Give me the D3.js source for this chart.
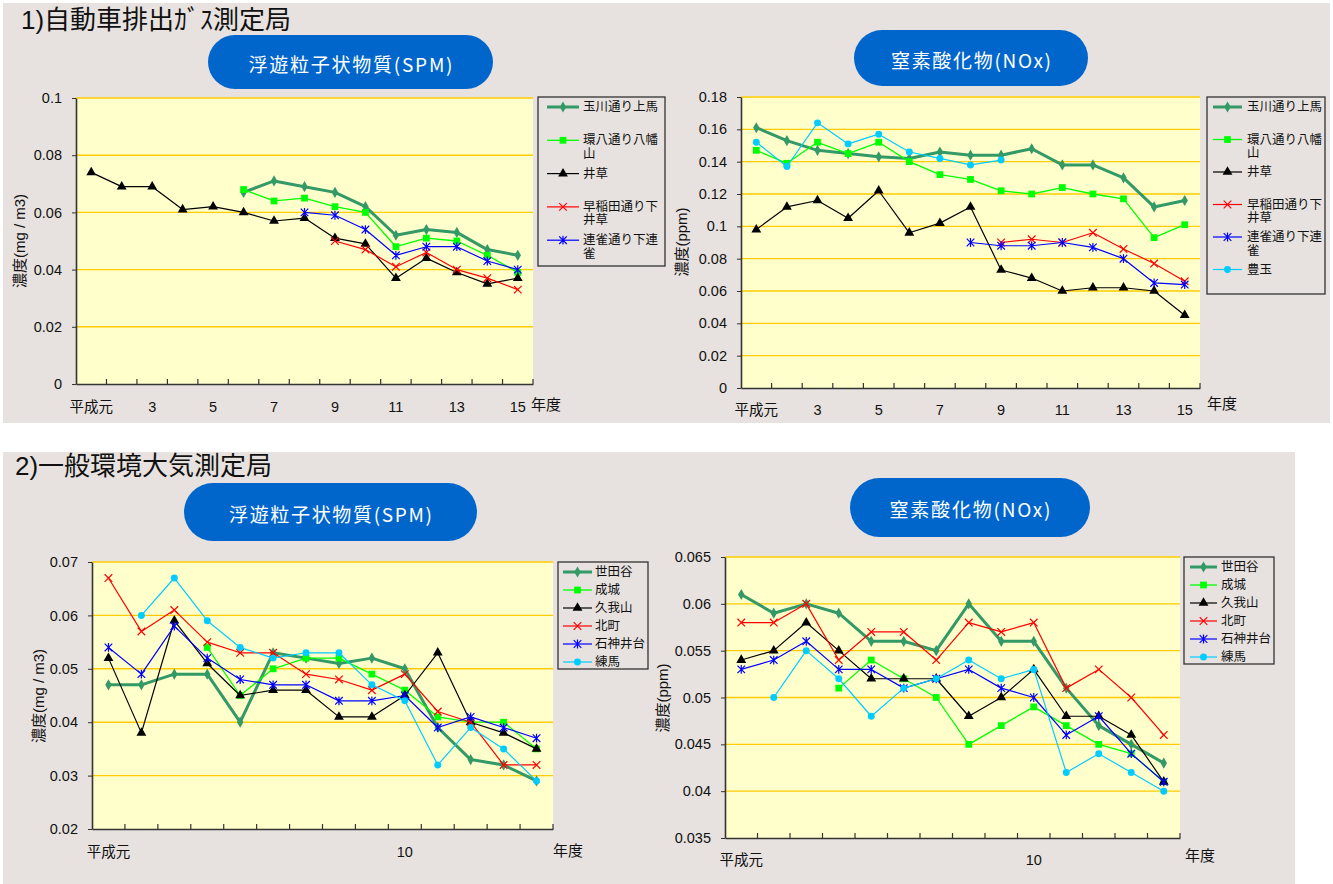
<!DOCTYPE html>
<html>
<head>
<meta charset="utf-8">
<script src="https://cdn.jsdelivr.net/npm/d3@7"></script>
<style>
  body { margin: 0; background: #fff; }
  text { font-family: "Liberation Sans", "Noto Sans CJK JP", sans-serif; fill: #111; }
</style>
</head>
<body>
<div id="root"></div>
<script>
// ---- data ----
const yearsRoad = ['平成元', '2', '3', '4', '5', '6', '7', '8', '9', '10', '11', '12', '13', '14', '15'];
const yearsAmb = ['平成元', '2', '3', '4', '5', '6', '7', '8', '9', '10', '11', '12', '13', '14'];
const xLabelsRoad = ['平成元', '3', '5', '7', '9', '11', '13', '15'];
const xLabelsAmb = ['平成元', '10'];

const namesRoad = ['玉川通り上馬', '環八通り八幡山', '井草', '早稲田通り下井草', '連雀通り下連雀', '豊玉'];
const namesAmb = ['世田谷', '成城', '久我山', '北町', '石神井台', '練馬'];

const yTicksSpmRoad = [0, 0.02, 0.04, 0.06, 0.08, 0.1];
const yTicksNoxRoad = [0, 0.02, 0.04, 0.06, 0.08, 0.1, 0.12, 0.14, 0.16, 0.18];
const yTicksSpmAmb = [0.02, 0.03, 0.04, 0.05, 0.06, 0.07];
const yTicksNoxAmb = [0.035, 0.04, 0.045, 0.05, 0.055, 0.06, 0.065];

// 自動車排出ガス測定局 SPM
const spmRoadTamagawa = [null, null, null, null, null, 0.067, 0.071, 0.069, 0.067, 0.062, 0.052, 0.054, 0.053, 0.047, 0.045];
const spmRoadKanpachi = [null, null, null, null, null, 0.068, 0.064, 0.065, 0.062, 0.060, 0.048, 0.051, 0.050, 0.045, 0.039];
const spmRoadIgusa = [0.074, 0.069, 0.069, 0.061, 0.062, 0.060, 0.057, 0.058, 0.051, 0.049, 0.037, 0.044, 0.039, 0.035, 0.037];
const spmRoadWaseda = [null, null, null, null, null, null, null, null, 0.050, 0.047, 0.041, 0.046, 0.040, 0.037, 0.033];
const spmRoadRenjaku = [null, null, null, null, null, null, null, 0.060, 0.059, 0.054, 0.045, 0.048, 0.048, 0.043, 0.040];

// 自動車排出ガス測定局 NOx
const noxRoadTamagawa = [0.161, 0.153, 0.147, 0.145, 0.143, 0.142, 0.146, 0.144, 0.144, 0.148, 0.138, 0.138, 0.130, 0.112, 0.116];
const noxRoadKanpachi = [0.147, 0.139, 0.152, 0.145, 0.152, 0.140, 0.132, 0.129, 0.122, 0.120, 0.124, 0.120, 0.117, 0.093, 0.101];
const noxRoadIgusa = [0.098, 0.112, 0.116, 0.105, 0.122, 0.096, 0.102, 0.112, 0.073, 0.068, 0.060, 0.062, 0.062, 0.060, 0.045];
const noxRoadWaseda = [null, null, null, null, null, null, null, null, 0.090, 0.092, 0.090, 0.096, 0.086, 0.077, 0.066];
const noxRoadRenjaku = [null, null, null, null, null, null, null, 0.090, 0.088, 0.088, 0.090, 0.087, 0.080, 0.065, 0.064];
const noxRoadToyotama = [0.152, 0.137, 0.164, 0.151, 0.157, 0.146, 0.142, 0.138, 0.141, null, null, null, null, null, null];

// 一般環境大気測定局 SPM
const spmAmbSetagaya = [0.047, 0.047, 0.049, 0.049, 0.040, 0.053, 0.052, 0.051, 0.052, 0.050, 0.039, 0.033, 0.032, 0.029];
const spmAmbSeijo = [null, null, null, 0.054, 0.045, 0.050, 0.052, 0.052, 0.049, 0.046, 0.041, 0.040, 0.040, 0.035];
const spmAmbKugayama = [0.052, 0.038, 0.059, 0.051, 0.045, 0.046, 0.046, 0.041, 0.041, 0.045, 0.053, 0.040, 0.038, 0.035];
const spmAmbKitamachi = [0.067, 0.057, 0.061, 0.055, 0.053, 0.053, 0.049, 0.048, 0.046, 0.049, 0.042, 0.040, 0.032, 0.032];
const spmAmbShakujii = [0.054, 0.049, 0.058, 0.052, 0.048, 0.047, 0.047, 0.044, 0.044, 0.045, 0.039, 0.041, 0.039, 0.037];
const spmAmbNerima = [null, 0.060, 0.067, 0.059, 0.054, 0.052, 0.053, 0.053, 0.047, 0.044, 0.032, 0.039, 0.035, 0.029];

// 一般環境大気測定局 NOx
const noxAmbSetagaya = [0.061, 0.059, 0.060, 0.059, 0.056, 0.056, 0.055, 0.060, 0.056, 0.056, 0.051, 0.047, 0.045, 0.043];
const noxAmbSeijo = [null, null, null, 0.051, 0.054, 0.052, 0.050, 0.045, 0.047, 0.049, 0.047, 0.045, 0.044, 0.041];
const noxAmbKugayama = [0.054, 0.055, 0.058, 0.055, 0.052, 0.052, 0.052, 0.048, 0.050, 0.053, 0.048, 0.048, 0.046, 0.041];
const noxAmbKitamachi = [0.058, 0.058, 0.060, 0.054, 0.057, 0.057, 0.054, 0.058, 0.057, 0.058, 0.051, 0.053, 0.050, 0.046];
const noxAmbShakujii = [0.053, 0.054, 0.056, 0.053, 0.053, 0.051, 0.052, 0.053, 0.051, 0.050, 0.046, 0.048, 0.044, 0.041];
const noxAmbNerima = [null, 0.050, 0.055, 0.052, 0.048, 0.051, 0.052, 0.054, 0.052, 0.053, 0.042, 0.044, 0.042, 0.040];

// ---- styles ----
const panelBg = '#e7e2df';
const plotBg = '#ffffcc';
const gridColor = '#ffcc00';
const pillColor = '#0066cc';

const styles = [
  { color: '#339966', width: 3, marker: 'diamond' },
  { color: '#00ff00', width: 1.3, marker: 'square' },
  { color: '#000000', width: 1.2, marker: 'triangle' },
  { color: '#ff0000', width: 1.2, marker: 'x' },
  { color: '#0000ff', width: 1.2, marker: 'star' },
  { color: '#00ccff', width: 1.2, marker: 'circle' }
];

const svg = d3.select('#root').append('svg')
  .attr('width', 1333)
  .attr('height', 884);

svg.append('rect').attr('width', 1333).attr('height', 884).attr('fill', '#fff');
svg.append('rect').attr('x', 3).attr('y', 3).attr('width', 1327).attr('height', 420).attr('fill', panelBg);
svg.append('rect').attr('x', 3).attr('y', 452).attr('width', 1292).attr('height', 432).attr('fill', panelBg);

svg.append('text').attr('x', 21).attr('y', 29).attr('font-size', 26).text('1)自動車排出ｶﾞｽ測定局');
svg.append('text').attr('x', 15).attr('y', 475).attr('font-size', 26).text('2)一般環境大気測定局');

function drawMarker(sel, type, color) {
  if (type === 'x' || type === 'star') {
    const r = 3.8;
    let d = `M${-r},${-r}L${r},${r}M${-r},${r}L${r},${-r}`;
    if (type === 'star') d += `M0,${-r - 0.6}L0,${r + 0.6}`;
    sel.append('path').attr('d', d).attr('stroke', color).attr('stroke-width', 1.2).attr('fill', 'none');
    return;
  }
  const sym = { diamond: d3.symbolDiamond, square: d3.symbolSquare, triangle: d3.symbolTriangle, circle: d3.symbolCircle }[type];
  const size = { diamond: 36, square: 46, triangle: 42, circle: 38 }[type];
  sel.append('path').attr('d', d3.symbol().type(sym).size(size)()).attr('fill', color);
}

function drawPanel(p) {
  const g = svg.append('g');
  const x = d3.scaleBand().domain(p.categories).range([p.plot.x, p.plot.x + p.plot.w]);
  const y = d3.scaleLinear().domain(d3.extent(p.yTicks)).range([p.plot.y + p.plot.h, p.plot.y]);
  const cx = (c) => x(c) + x.bandwidth() / 2;

  // pill title
  g.append('rect')
    .attr('x', p.pill.x).attr('y', p.pill.y)
    .attr('width', p.pill.w).attr('height', p.pill.h)
    .attr('rx', p.pill.h / 2)
    .attr('fill', pillColor);
  g.append('text')
    .attr('x', p.pill.x + p.pill.w / 2)
    .attr('y', p.pill.y + p.pill.h / 2 + 1)
    .attr('text-anchor', 'middle')
    .attr('dominant-baseline', 'central')
    .attr('font-size', 19)
    .attr('textLength', p.pill.tw)
    .attr('lengthAdjust', 'spacing')
    .style('fill', '#fff')
    .style('font-family', '"Noto Sans CJK JP", sans-serif')
    .text(p.title);

  // plot area
  g.append('rect')
    .attr('x', p.plot.x).attr('y', p.plot.y)
    .attr('width', p.plot.w).attr('height', p.plot.h)
    .attr('fill', plotBg);

  g.append('g').selectAll('line').data(p.yTicks.slice(1))
    .enter().append('line')
      .attr('x1', p.plot.x).attr('x2', p.plot.x + p.plot.w)
      .attr('y1', (d) => y(d)).attr('y2', (d) => y(d))
      .attr('stroke', gridColor)
      .attr('stroke-width', 1.4);

  // y axis
  const yAxis = d3.axisLeft(y)
    .tickValues(p.yTicks)
    .tickSize(4)
    .tickSizeOuter(0)
    .tickPadding(10)
    .tickFormat((d) => String(d));
  const ya = g.append('g')
    .attr('transform', `translate(${p.plot.x}, 0)`)
    .call(yAxis);
  ya.selectAll('text').attr('font-size', 14.5).style('font-family', '"Liberation Sans", sans-serif').attr('fill', '#111');
  ya.selectAll('line').attr('stroke', '#333');
  ya.select('.domain').attr('stroke', '#333').attr('stroke-width', 1.6);

  // x axis
  const xAxis = d3.axisBottom(x)
    .tickValues(p.xLabels)
    .tickSize(0)
    .tickPadding(p.xPad);
  const xa = g.append('g')
    .attr('transform', `translate(0, ${p.plot.y + p.plot.h})`)
    .call(xAxis);
  xa.selectAll('text').attr('font-size', 14.5).style('font-family', '"Liberation Sans", "Noto Sans CJK JP", sans-serif').attr('fill', '#111');
  xa.select('.domain').attr('stroke', '#333').attr('stroke-width', 1.6);

  // tick marks between categories
  g.append('g').selectAll('line').data(p.categories)
    .enter().append('line')
      .attr('x1', (d) => x(d) + x.bandwidth()).attr('x2', (d) => x(d) + x.bandwidth())
      .attr('y1', p.plot.y + p.plot.h).attr('y2', p.plot.y + p.plot.h - 5)
      .attr('stroke', '#333')
      .attr('stroke-width', 1.2);

  g.append('text')
    .attr('x', p.unit.x).attr('y', p.unit.y)
    .attr('font-size', 15)
    .attr('dominant-baseline', 'central')
    .text('年度');

  g.append('text')
    .attr('transform', `translate(${p.ytitle.x}, ${p.ytitle.y}) rotate(-90)`)
    .attr('text-anchor', 'middle')
    .attr('dominant-baseline', 'central')
    .attr('font-size', 15)
    .text(p.ytitle.text);

  // series
  const line = d3.line()
    .defined((d) => d.v != null)
    .x((d) => cx(d.c))
    .y((d) => y(d.v));

  p.series.forEach((s) => {
    const st = styles[s.style];
    const pts = p.categories.map((c, k) => ({ c: c, v: s.values[k] }));
    g.append('path')
      .datum(pts)
      .attr('d', line)
      .attr('fill', 'none')
      .attr('stroke', st.color)
      .attr('stroke-width', st.width)
      .attr('stroke-linejoin', 'round');
    g.append('g').selectAll('g').data(pts.filter((d) => d.v != null))
      .enter().append('g')
        .attr('transform', (d) => `translate(${cx(d.c)}, ${y(d.v)})`)
        .each(function () { drawMarker(d3.select(this), st.marker, st.color); });
  });

  // legend
  const L = p.legend;
  g.append('rect')
    .attr('x', L.x).attr('y', L.y)
    .attr('width', L.w).attr('height', L.h)
    .attr('fill', panelBg)
    .attr('stroke', '#333')
    .attr('stroke-width', 1.3);
  p.series.forEach((s, i) => {
    const st = styles[s.style];
    const ly = L.y0 + i * L.step;
    const item = g.append('g');
    item.append('line')
      .attr('x1', L.x + L.l0).attr('x2', L.x + L.l1)
      .attr('y1', ly).attr('y2', ly)
      .attr('stroke', st.color)
      .attr('stroke-width', st.width);
    drawMarker(item.append('g').attr('transform', `translate(${L.x + (L.l0 + L.l1) / 2}, ${ly})`), st.marker, st.color);
    const lines = [];
    for (let k = 0; k < s.name.length; k += L.wrap) lines.push(s.name.slice(k, k + L.wrap));
    lines.forEach((t, k) => {
      item.append('text')
        .attr('x', L.x + L.tx)
        .attr('y', ly + k * 13.5)
        .attr('dominant-baseline', 'central')
        .attr('font-size', L.fs)
        .text(t);
    });
  });
}

drawPanel({
  title: '浮遊粒子状物質(SPM)',
  pill: { x: 208, y: 35, w: 285, h: 54, tw: 204 },
  plot: { x: 76, y: 98, w: 457, h: 286 },
  categories: yearsRoad,
  xLabels: xLabelsRoad,
  xPad: 18,
  yTicks: yTicksSpmRoad,
  unit: { x: 531, y: 404 },
  ytitle: { x: 19, y: 241, text: '濃度(mg / m3)' },
  series: [
    { name: namesRoad[0], values: spmRoadTamagawa, style: 0 },
    { name: namesRoad[1], values: spmRoadKanpachi, style: 1 },
    { name: namesRoad[2], values: spmRoadIgusa, style: 2 },
    { name: namesRoad[3], values: spmRoadWaseda, style: 3 },
    { name: namesRoad[4], values: spmRoadRenjaku, style: 4 }
  ],
  legend: { x: 538, y: 97, w: 127, h: 169, y0: 107, step: 33.3, l0: 9, l1: 41, tx: 45, fs: 12.5, wrap: 6 }
});

drawPanel({
  title: '窒素酸化物(NOx)',
  pill: { x: 854, y: 30, w: 234, h: 56, tw: 160 },
  plot: { x: 741, y: 97, w: 459, h: 291 },
  categories: yearsRoad,
  xLabels: xLabelsRoad,
  xPad: 17,
  yTicks: yTicksNoxRoad,
  unit: { x: 1207, y: 403 },
  ytitle: { x: 681, y: 242, text: '濃度(ppm)' },
  series: [
    { name: namesRoad[0], values: noxRoadTamagawa, style: 0 },
    { name: namesRoad[1], values: noxRoadKanpachi, style: 1 },
    { name: namesRoad[2], values: noxRoadIgusa, style: 2 },
    { name: namesRoad[3], values: noxRoadWaseda, style: 3 },
    { name: namesRoad[4], values: noxRoadRenjaku, style: 4 },
    { name: namesRoad[5], values: noxRoadToyotama, style: 5 }
  ],
  legend: { x: 1207, y: 97, w: 118, h: 197, y0: 107, step: 32.5, l0: 6, l1: 35, tx: 40, fs: 12.5, wrap: 6 }
});

drawPanel({
  title: '浮遊粒子状物質(SPM)',
  pill: { x: 184, y: 483, w: 293, h: 58, tw: 203 },
  plot: { x: 92, y: 562, w: 461, h: 267 },
  categories: yearsAmb,
  xLabels: xLabelsAmb,
  xPad: 18,
  yTicks: yTicksSpmAmb,
  unit: { x: 553, y: 850 },
  ytitle: { x: 38, y: 696, text: '濃度(mg / m3)' },
  series: namesAmb.map((n, i) => ({ name: n, values: [spmAmbSetagaya, spmAmbSeijo, spmAmbKugayama, spmAmbKitamachi, spmAmbShakujii, spmAmbNerima][i], style: i })),
  legend: { x: 558, y: 562, w: 90, h: 107, y0: 572, step: 18, l0: 5, l1: 34, tx: 37, fs: 12.5, wrap: 8 }
});

drawPanel({
  title: '窒素酸化物(NOx)',
  pill: { x: 850, y: 478, w: 240, h: 59, tw: 161 },
  plot: { x: 725, y: 557, w: 455, h: 281 },
  categories: yearsAmb,
  xLabels: xLabelsAmb,
  xPad: 17,
  yTicks: yTicksNoxAmb,
  unit: { x: 1185, y: 855 },
  ytitle: { x: 662, y: 698, text: '濃度(ppm)' },
  series: namesAmb.map((n, i) => ({ name: n, values: [noxAmbSetagaya, noxAmbSeijo, noxAmbKugayama, noxAmbKitamachi, noxAmbShakujii, noxAmbNerima][i], style: i })),
  legend: { x: 1184, y: 557, w: 90, h: 107, y0: 567, step: 18, l0: 6, l1: 33, tx: 37, fs: 12.5, wrap: 8 }
});
</script>
</body>
</html>
